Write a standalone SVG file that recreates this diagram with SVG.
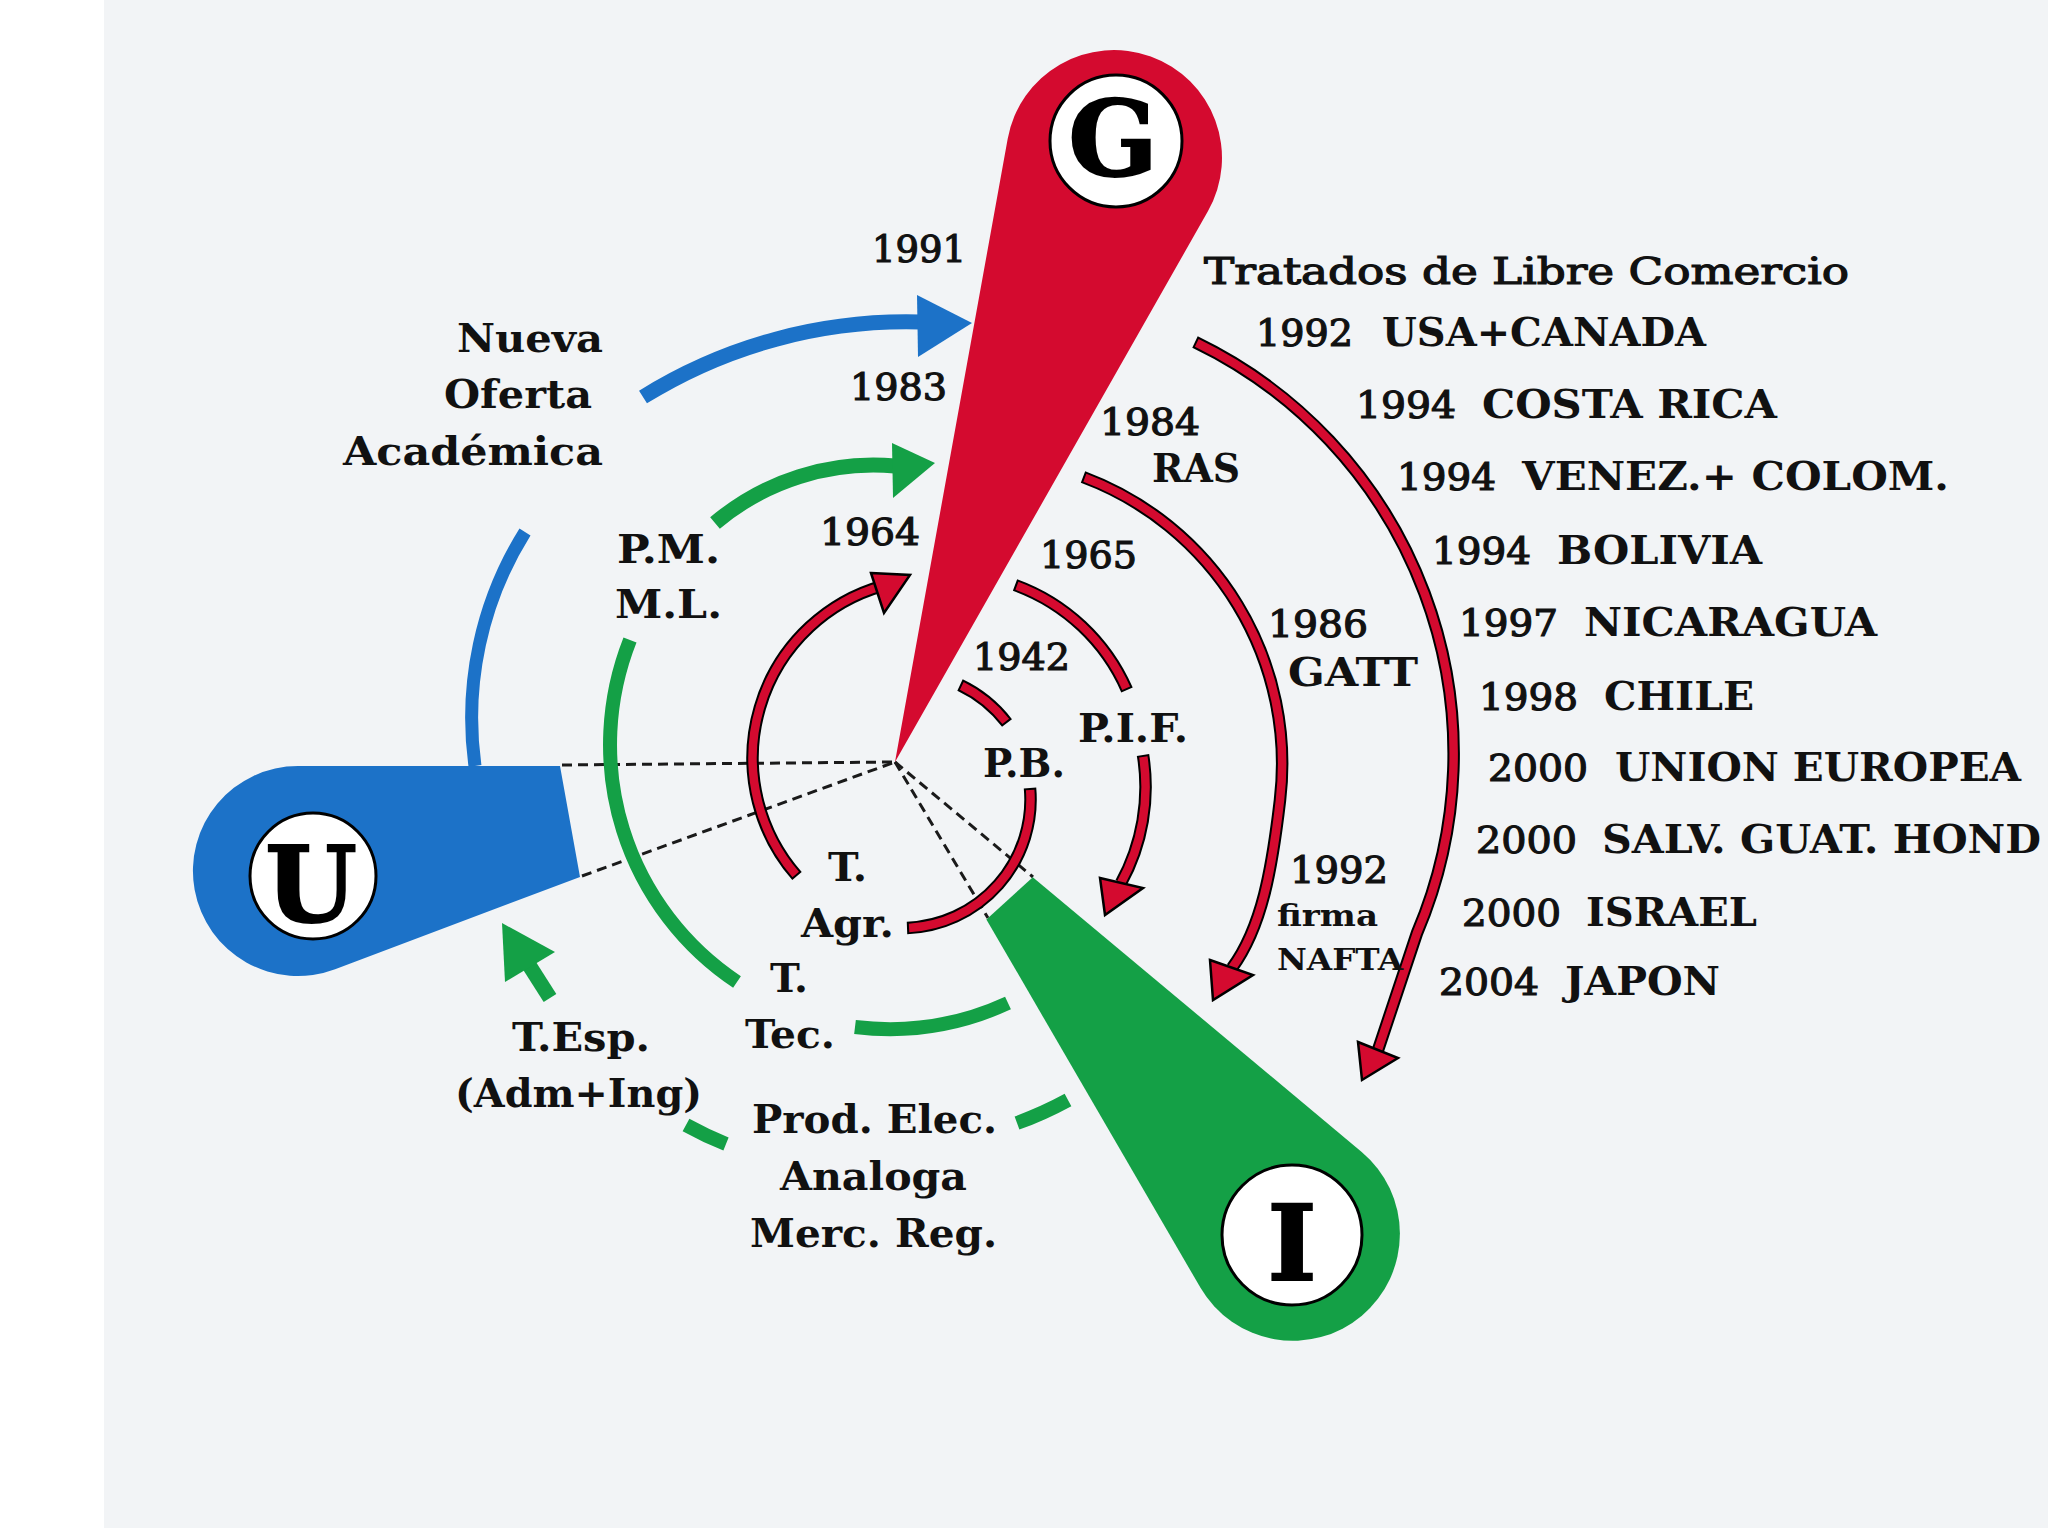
<svg xmlns="http://www.w3.org/2000/svg" width="2048" height="1536" viewBox="0 0 2048 1536">
<defs>
<style>
.t{font-family:'DejaVu Serif Condensed','DejaVu Serif','Liberation Serif',serif;fill:#111;}
.y{font-size:38px;font-weight:normal;stroke:#111;stroke-width:1.1;}
.b{font-size:40px;font-weight:bold;}
.s{font-size:30px;font-weight:bold;}
.big{font-family:'DejaVu Serif','Liberation Serif',serif;font-weight:bold;font-size:105px;fill:#000;stroke:#000;stroke-width:2;text-anchor:middle;}
.dash{fill:none;stroke:#1a1a1a;stroke-width:3;stroke-dasharray:10 6;}
.ro{fill:none;stroke:#000;stroke-width:12.5;}
.ri{fill:none;stroke:#d40a2f;stroke-width:8.5;}
.rh{fill:#d40a2f;stroke:#000;stroke-width:2.5;stroke-linejoin:miter;}
.gr{fill:none;stroke:#14a046;}
.bl{fill:none;stroke:#1c72c8;}
.circ{fill:#fff;stroke:#000;stroke-width:3;}
</style>
</defs>
<rect x="0" y="0" width="2048" height="1536" fill="#ffffff"/>
<rect x="104" y="0" width="1944" height="1528" fill="#f2f4f6"/>

<g id="connectors">
  <path class="dash" d="M562,765 L895,762"/>
  <path class="dash" d="M582,876 L895,762"/>
  <path class="dash" d="M895,762 L1033,877"/>
  <path class="dash" d="M895,762 L988,918"/>

  <path class="bl" stroke-width="13" d="M525,532 A350,350 0 0 0 475,766"/>
  <path class="bl" stroke-width="15" d="M643,397 A499,499 0 0 1 920,322"/>
  <polygon fill="#1c72c8" points="917,295 972,323 918,357"/>

  <path class="gr" stroke-width="15" d="M715,523 A246,246 0 0 1 895,466"/>
  <polygon fill="#14a046" points="892,443 935,463 893,498"/>
  <path class="gr" stroke-width="14" d="M630,640 A285,285 0 0 0 737,982"/>
  <path class="gr" stroke-width="14" d="M855,1027 A284,284 0 0 0 1008,1003"/>
  <path class="gr" stroke-width="14" d="M686,1125 A366,366 0 0 0 726,1144"/>
  <path class="gr" stroke-width="14" d="M1017,1123 A366,366 0 0 0 1068,1100"/>
  <path class="gr" stroke-width="15" d="M550,998 L529,965"/>
  <polygon fill="#14a046" points="502,923 555,952 505,982"/>

  <path class="ro" d="M797,876 A179,179 0 0 1 882,586"/>
  <path class="ri" stroke-dasharray="0 2 5000" d="M797,876 A179,179 0 0 1 882,586"/>
  <polygon class="rh" points="871,573 910,575 884,613"/>

  <path class="ro" d="M960,685 A128.5,128.5 0 0 1 1007,723"/>
  <path class="ri" pathLength="100" stroke-dasharray="0 3.3 93.4 3.3" d="M960,685 A128.5,128.5 0 0 1 1007,723"/>
  <path class="ro" d="M1030,788 A128.5,128.5 0 0 1 907,928"/>
  <path class="ri" pathLength="100" stroke-dasharray="0 1 98 1" d="M1030,788 A128.5,128.5 0 0 1 907,928"/>

  <path class="ro" d="M1015,585 A195,195 0 0 1 1127,690"/>
  <path class="ri" pathLength="100" stroke-dasharray="0 1.3 97.4 1.3" d="M1015,585 A195,195 0 0 1 1127,690"/>
  <path class="ro" d="M1143,755 A200,200 0 0 1 1121,883"/>
  <path class="ri" stroke-dasharray="0 2 5000" d="M1143,755 A200,200 0 0 1 1121,883"/>
  <polygon class="rh" points="1100,878 1143,888 1105,915"/>

  <path class="ro" d="M1083,477 A306,306 0 0 1 1280,800 C1272,869 1262,927 1232,968"/>
  <path class="ri" stroke-dasharray="0 2 5000" d="M1083,477 A306,306 0 0 1 1280,800 C1272,869 1262,927 1232,968"/>
  <polygon class="rh" points="1210,960 1253,975 1213,1000"/>

  <path class="ro" d="M1195,342 A457,457 0 0 1 1417,933 L1378,1050"/>
  <path class="ri" stroke-dasharray="0 2 5000" d="M1195,342 A457,457 0 0 1 1417,933 L1378,1050"/>
  <polygon class="rh" points="1358,1042 1398,1058 1362,1080"/>
</g>

<g id="node-G">
  <path fill="#d40a2f" d="M895,762 L1007.7,138.8 A108,108 0 1 1 1207.9,211.3 Z"/>
  <circle class="circ" cx="1116" cy="141" r="66"/>
  <text class="big" x="1113" y="176" font-size="100">G</text>
</g>
<g id="node-U">
  <path fill="#1c72c8" d="M560,766 L580,877 L335.1,969.2 A105,105 0 1 1 298,766 Z"/>
  <circle class="circ" cx="313" cy="876" r="63"/>
  <text class="big" x="311" y="922">U</text>
</g>
<g id="node-I">
  <path fill="#14a046" d="M1032.8,877.2 L1361.7,1151.9 A107,107 0 1 1 1200.5,1287.8 L986.4,919.4 Z"/>
  <circle class="circ" cx="1292" cy="1235" r="70"/>
  <text class="big" x="1292" y="1280">I</text>
</g>

<g id="labels">
  <text class="t y" x="872" y="262" textLength="94" lengthAdjust="spacingAndGlyphs">1991</text>
  <text class="t y" x="850" y="400" textLength="97" lengthAdjust="spacingAndGlyphs">1983</text>
  <text class="t y" x="820" y="545" textLength="100" lengthAdjust="spacingAndGlyphs">1964</text>
  <text class="t y" x="1040" y="568" textLength="97" lengthAdjust="spacingAndGlyphs">1965</text>
  <text class="t y" x="973" y="670" textLength="97" lengthAdjust="spacingAndGlyphs">1942</text>
  <text class="t y" x="1100" y="435" textLength="100" lengthAdjust="spacingAndGlyphs">1984</text>
  <text class="t b" x="1152" y="482" textLength="88" lengthAdjust="spacingAndGlyphs">RAS</text>
  <text class="t y" x="1268" y="637" textLength="100" lengthAdjust="spacingAndGlyphs">1986</text>
  <text class="t b" x="1288" y="686" textLength="130" lengthAdjust="spacingAndGlyphs">GATT</text>
  <text class="t b" x="1078" y="742" textLength="110" lengthAdjust="spacingAndGlyphs">P.I.F.</text>
  <text class="t b" x="983" y="777" textLength="82" lengthAdjust="spacingAndGlyphs">P.B.</text>
  <text class="t b" x="828" y="881" textLength="39" lengthAdjust="spacingAndGlyphs">T.</text>
  <text class="t b" x="801" y="937" textLength="93" lengthAdjust="spacingAndGlyphs">Agr.</text>
  <text class="t y" x="1290" y="883" textLength="98" lengthAdjust="spacingAndGlyphs">1992</text>
  <text class="t s" x="1277" y="926" textLength="101" lengthAdjust="spacingAndGlyphs">firma</text>
  <text class="t s" x="1277" y="970" textLength="126" lengthAdjust="spacingAndGlyphs">NAFTA</text>
  <text class="t b" x="770" y="992" textLength="38" lengthAdjust="spacingAndGlyphs">T.</text>
  <text class="t b" x="745" y="1048" textLength="90" lengthAdjust="spacingAndGlyphs">Tec.</text>
  <text class="t b" x="512" y="1051" textLength="138" lengthAdjust="spacingAndGlyphs">T.Esp.</text>
  <text class="t b" x="455" y="1107" textLength="247" lengthAdjust="spacingAndGlyphs">(Adm+Ing)</text>
  <text class="t b" x="752" y="1133" textLength="245" lengthAdjust="spacingAndGlyphs">Prod. Elec.</text>
  <text class="t b" x="780" y="1190" textLength="187" lengthAdjust="spacingAndGlyphs">Analoga</text>
  <text class="t b" x="750" y="1247" textLength="247" lengthAdjust="spacingAndGlyphs">Merc. Reg.</text>
  <text class="t b" x="617" y="563" textLength="103" lengthAdjust="spacingAndGlyphs">P.M.</text>
  <text class="t b" x="615" y="618" textLength="107" lengthAdjust="spacingAndGlyphs">M.L.</text>
  <text class="t b" x="457" y="352" textLength="146" lengthAdjust="spacingAndGlyphs">Nueva</text>
  <text class="t b" x="444" y="408" textLength="148" lengthAdjust="spacingAndGlyphs">Oferta</text>
  <text class="t b" x="343" y="465" textLength="260" lengthAdjust="spacingAndGlyphs">Académica</text>

  <text class="t y" x="1204" y="284" font-size="40" textLength="645" lengthAdjust="spacingAndGlyphs">Tratados de Libre Comercio</text>
  <text class="t y" x="1256" y="346" textLength="97" lengthAdjust="spacingAndGlyphs">1992</text>
  <text class="t b" x="1382" y="346" textLength="324" lengthAdjust="spacingAndGlyphs">USA+CANADA</text>
  <text class="t y" x="1356" y="418" textLength="100" lengthAdjust="spacingAndGlyphs">1994</text>
  <text class="t b" x="1482" y="418" textLength="295" lengthAdjust="spacingAndGlyphs">COSTA RICA</text>
  <text class="t y" x="1397" y="490" textLength="99" lengthAdjust="spacingAndGlyphs">1994</text>
  <text class="t b" x="1522" y="490" textLength="427" lengthAdjust="spacingAndGlyphs">VENEZ.+ COLOM.</text>
  <text class="t y" x="1432" y="564" textLength="99" lengthAdjust="spacingAndGlyphs">1994</text>
  <text class="t b" x="1557" y="564" textLength="205" lengthAdjust="spacingAndGlyphs">BOLIVIA</text>
  <text class="t y" x="1459" y="636" textLength="99" lengthAdjust="spacingAndGlyphs">1997</text>
  <text class="t b" x="1584" y="636" textLength="293" lengthAdjust="spacingAndGlyphs">NICARAGUA</text>
  <text class="t y" x="1479" y="710" textLength="99" lengthAdjust="spacingAndGlyphs">1998</text>
  <text class="t b" x="1604" y="710" textLength="150" lengthAdjust="spacingAndGlyphs">CHILE</text>
  <text class="t y" x="1488" y="781" textLength="100" lengthAdjust="spacingAndGlyphs">2000</text>
  <text class="t b" x="1615" y="781" textLength="406" lengthAdjust="spacingAndGlyphs">UNION EUROPEA</text>
  <text class="t y" x="1476" y="853" textLength="101" lengthAdjust="spacingAndGlyphs">2000</text>
  <text class="t b" x="1602" y="853" textLength="439" lengthAdjust="spacingAndGlyphs">SALV. GUAT. HOND</text>
  <text class="t y" x="1462" y="926" textLength="99" lengthAdjust="spacingAndGlyphs">2000</text>
  <text class="t b" x="1586" y="926" textLength="171" lengthAdjust="spacingAndGlyphs">ISRAEL</text>
  <text class="t y" x="1439" y="995" textLength="100" lengthAdjust="spacingAndGlyphs">2004</text>
  <text class="t b" x="1565" y="995" textLength="155" lengthAdjust="spacingAndGlyphs">JAPON</text>
</g>
</svg>
